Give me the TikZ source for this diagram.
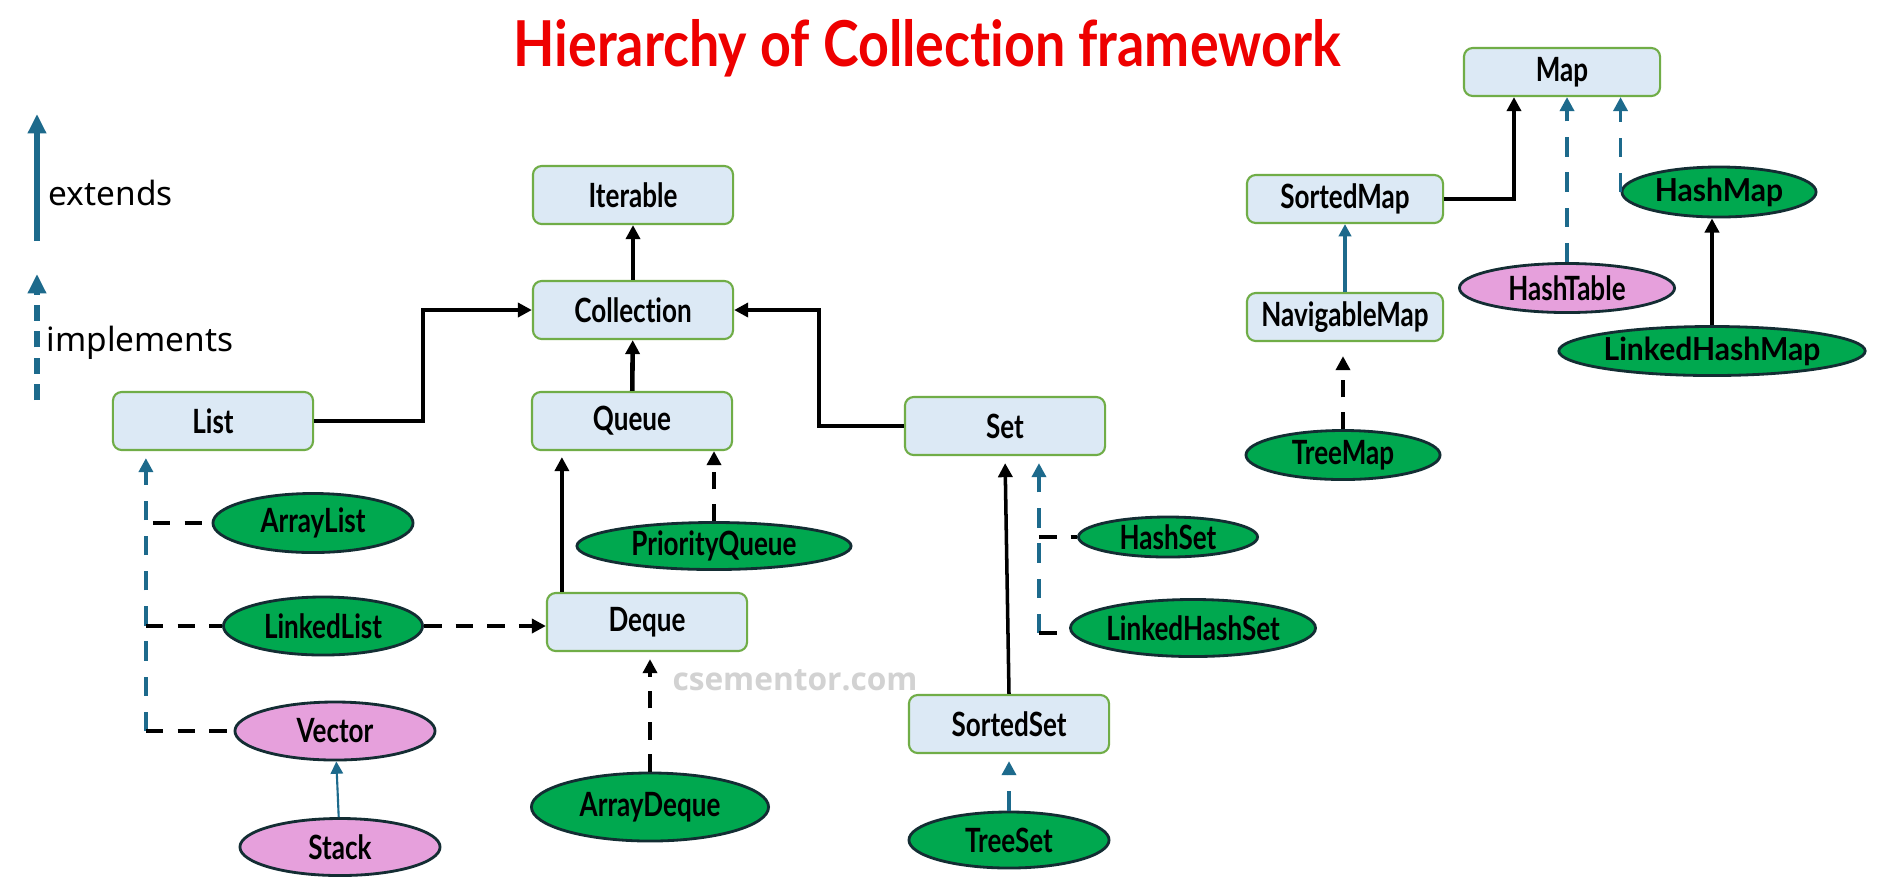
\documentclass[tikz,border=0pt]{standalone}
\usepackage{fontspec}
\usepackage{tikz}
\usetikzlibrary{arrows.meta,shapes.geometric}
\usepackage{xcolor}

\newfontfamily\labelfont[FakeStretch=0.78,Ligatures=NoCommon]{Lato}
\newfontfamily\widelabelfont[FakeStretch=0.95,Ligatures=NoCommon]{Lato}
\newfontfamily\titlefont[FakeStretch=0.85,Ligatures=NoCommon]{Lato}
\newfontfamily\legendfont{Noto Sans}
\newfontfamily\markfont{Open Sans}

\definecolor{boxfill}{HTML}{DCE9F5}
\definecolor{boxline}{HTML}{70AD47}
\definecolor{implgreen}{HTML}{00A84F}
\definecolor{implpink}{HTML}{E6A0DC}
\definecolor{ovalline}{HTML}{132D33}
\definecolor{arrowblue}{HTML}{1D6A8C}
\definecolor{titlered}{HTML}{EE0000}

\begin{document}
\begin{tikzpicture}[x=0.01cm, y=-0.01cm,
    iface/.style={draw=boxline, fill=boxfill, rounded corners=2.5pt, line width=0.6pt,
        minimum width=2cm, minimum height=0.58cm, inner sep=0pt,
        font=\labelfont\bfseries\fontsize{9.5}{10}\selectfont},
    mapbox/.style={iface, minimum width=1.96cm, minimum height=0.48cm},
    cls/.style={ellipse, draw=ovalline, line width=0.8pt, fill=implgreen, inner sep=0pt,
        font=\labelfont\bfseries\fontsize{9.5}{10}\selectfont},
    oldcls/.style={cls, fill=implpink},
    widecls/.style={cls, font=\widelabelfont\bfseries\fontsize{9}{10}\selectfont},
    ext/.style={-{Triangle[length=4pt,width=4pt]}, line width=1.3pt},
    extthin/.style={ext, line width=1pt},
    impl/.style={-{Triangle[length=4pt,width=4pt]}, line width=1.2pt, dash pattern=on 5pt off 4pt},
    implline/.style={line width=1.2pt, dash pattern=on 5pt off 4pt},
    blueimpl/.style={impl, arrowblue, line width=1.1pt, dash pattern=on 5.5pt off 4.5pt},
    blueext/.style={-{Triangle[length=3.5pt,width=3.5pt]}, arrowblue, line width=0.9pt},
    legendtxt/.style={font=\legendfont\fontsize{9.5}{11}\selectfont, inner sep=0pt}
  ]
    \path[use as bounding box, fill=white] (0,0) rectangle (1888,893);

    % Title
    \node[font=\titlefont\bfseries\fontsize{18}{21}\selectfont, text=titlered] (title) at (927,48) {Hierarchy of Collection framework};

    % Legend
    \coordinate (extfoot) at (37,241);
    \coordinate (exthead) at (37,114);
    \draw[-{Triangle[length=5.5pt,width=5pt]}, arrowblue, line width=1.7pt] (extfoot) -- (exthead);
    \node[legendtxt, anchor=west] (extlabel) at (48,193) {extends};
    \coordinate (implfoot) at (37,400);
    \coordinate (implhead) at (37,274);
    \draw[-{Triangle[length=5.5pt,width=5pt]}, arrowblue, line width=1.7pt, dash pattern=on 4.5pt off 3pt] (implfoot) -- (implhead);
    \node[legendtxt, anchor=west] (impllabel) at (46,343) {implements};

    % Interfaces
    \node[iface] (iterable) at (633,195) {Iterable};
    \node[iface] (collection) at (633,310) {Collection};
    \node[iface] (queue) at (632,421) {Queue};
    \node[iface] (list) at (213,421) {List};
    \node[iface] (set) at (1005,426) {Set};
    \node[iface] (deque) at (647,622) {Deque};
    \node[iface] (sortedset) at (1009,724) {SortedSet};
    \node[mapbox] (map) at (1562,72) {Map};
    \node[mapbox] (sortedmap) at (1345,199) {SortedMap};
    \node[mapbox] (navmap) at (1345,317) {NavigableMap};

    % Classes
    \node[cls, minimum width=2cm, minimum height=0.59cm] (arraylist) at (313,523) {ArrayList};
    \node[cls, minimum width=1.99cm, minimum height=0.58cm] (linkedlist) at (323,626) {LinkedList};
    \node[oldcls, minimum width=2cm, minimum height=0.58cm] (vector) at (335,731) {Vector};
    \node[oldcls, minimum width=2cm, minimum height=0.57cm] (stack) at (340,847) {Stack};
    \node[cls, minimum width=2.74cm, minimum height=0.47cm] (prioqueue) at (714,546) {PriorityQueue};
    \node[cls, minimum width=2.37cm, minimum height=0.68cm] (arraydeque) at (650,807) {ArrayDeque};
    \node[cls, minimum width=1.79cm, minimum height=0.40cm] (hashset) at (1168,537) {HashSet};
    \node[cls, minimum width=2.23cm, minimum height=0.57cm] (linkedhashset) at (1193,628) {LinkedHashSet};
    \node[cls, minimum width=2cm, minimum height=0.56cm] (treeset) at (1009,840) {TreeSet};
    \node[cls, minimum width=1.94cm, minimum height=0.49cm] (treemap) at (1343,455) {TreeMap};
    \node[widecls, minimum width=1.94cm, minimum height=0.50cm] (hashmap) at (1719,192) {HashMap};
    \node[widecls, minimum width=2.97cm, minimum height=0.49cm] (linkedhashmap) at (1712,351) {LinkedHashMap};
    \node[oldcls, minimum width=2.15cm, minimum height=0.49cm] (hashtable) at (1567,288) {HashTable};

    % Watermark
    \node[font=\markfont\bfseries\fontsize{9}{11}\selectfont, text=gray!35] (mark) at (795,680) {csementor.com};

    % Collection side
    \draw[ext] (collection) -- (iterable);
    \draw[ext] (queue) -- (collection);
    \draw[ext] (list.east) -- ++(109,0) |- (collection.west);
    \draw[ext] (set.west) -- ++(-85,0) |- (collection.east);
    \draw[extthin, shorten >=6pt*0.2845] ([xshift=0.16cm]deque.north west) -- ([xshift=0.16cm]deque.north west |- queue.south);
    \draw[impl] (prioqueue.north) -- (prioqueue.north |- queue.south);
    \draw[impl] (linkedlist.east) -- (linkedlist.east -| deque.west);
    \draw[impl, shorten >=2pt] (arraydeque.north) -- (arraydeque.north |- deque.south);

    % List implementations
    \coordinate (listimp) at ([xshift=0.34cm]list.south west);
    \draw[blueimpl, shorten >=2pt] (listimp |- vector.west) -- (listimp);
    \draw[implline] ([xshift=0.07cm]listimp |- arraylist.west) -- (arraylist.west);
    \draw[implline] (listimp |- linkedlist.west) -- (linkedlist.west);
    \draw[implline] (listimp |- vector.west) -- (vector.west);
    \draw[blueext, line width=0.6pt] (stack) -- (vector);

    % Set implementations
    \coordinate (setimp) at ([xshift=1.35cm]set.south west);
    \draw[blueimpl, shorten >=2pt] (setimp |- linkedhashset.west) ++(0,5) -- (setimp);
    \draw[implline] (setimp |- hashset.west) -- (hashset.west);
    \draw[implline] ([yshift=-0.05cm]setimp |- linkedhashset.west) -- ([yshift=-0.05cm]linkedhashset.west);
    \draw[extthin, shorten >=2pt] (sortedset.north) -- (set.south);
    \draw[blueimpl, shorten >=2pt] (treeset.north) -- (sortedset.south);

    % Map side
    \draw[ext] (sortedmap.east) -| ([xshift=-0.48cm]map.south);
    \draw[blueimpl] (hashtable.north) -- (hashtable.north |- map.south);
    \draw[blueimpl] (hashmap.west) -- (hashmap.west |- map.south);
    \draw[extthin] (linkedhashmap.north) -- (linkedhashmap.north |- hashmap.south);
    \draw[blueext] (navmap) -- (sortedmap);
    \draw[impl, shorten >=4pt] (treemap.north) -- (treemap.north |- navmap.south);
\end{tikzpicture}
\end{document}
